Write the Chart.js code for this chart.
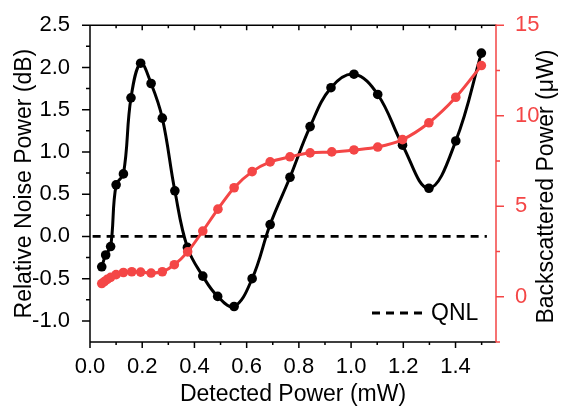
<html>
  <head>
    <script src="https://cdn.jsdelivr.net/npm/chart.js@4.4.1/dist/chart.umd.min.js"></script>
    <style>
      body { margin: 0; background: #fff; }
      #wrap { width: 563px; height: 410px; }
    </style>
  </head>
  <body>
    <div id="wrap"><canvas id="noiseCanvas" width="563" height="410"></canvas></div>
    <script>
      // detected power (mW) for the noise points
      var noiseX = [0.045, 0.060, 0.079, 0.100, 0.128, 0.157, 0.194, 0.234, 0.277, 0.325, 0.373, 0.432, 0.489,
                    0.552, 0.621, 0.690, 0.766, 0.843, 0.923, 1.011, 1.102, 1.197, 1.298, 1.401, 1.499];
      // relative noise power (dB)
      var noiseY = [-0.36, -0.22, -0.12, 0.61, 0.74, 1.64, 2.05, 1.81, 1.40, 0.54, -0.13, -0.47, -0.71,
                    -0.83, -0.50, 0.14, 0.70, 1.30, 1.76, 1.92, 1.68, 1.08, 0.57, 1.13, 2.17];

      // detected power (mW) for the backscatter points
      var backX = [0.045, 0.055, 0.066, 0.079, 0.100, 0.128, 0.160, 0.194, 0.234, 0.277, 0.323, 0.374, 0.432,
                   0.490, 0.552, 0.621, 0.690, 0.766, 0.843, 0.926, 1.011, 1.102, 1.197, 1.298, 1.401, 1.499];
      // backscattered power (uW)
      var backY = [0.73, 0.84, 0.96, 1.07, 1.22, 1.34, 1.38, 1.36, 1.31, 1.38, 1.77, 2.48, 3.63,
                   4.84, 6.02, 6.91, 7.45, 7.73, 7.95, 8.00, 8.11, 8.27, 8.68, 9.61, 11.02, 12.77];

      // quantum noise limit reference line
      var qnlX = [0.01, 1.52];
      var qnlY = [0, 0];

      var xTicks = [0.0, 0.2, 0.4, 0.6, 0.8, 1.0, 1.2, 1.4];
      var xMinor = [0.1, 0.3, 0.5, 0.7, 0.9, 1.1, 1.3, 1.5];
      var yTicks = [-1.0, -0.5, 0.0, 0.5, 1.0, 1.5, 2.0, 2.5];
      var yMinor = [-0.75, -0.25, 0.25, 0.75, 1.25, 1.75, 2.25];
      var y2Ticks = [0, 5, 10, 15];
      var y2Minor = [-2.5, 2.5, 7.5, 12.5];

      var RED = '#f44646';
      var FONT = "'Liberation Sans', Arial, sans-serif";

      function pts(xs, ys) {
        return xs.map(function(x, i) { return { x: x, y: ys[i] }; });
      }

      // axis frame, tick marks, right title and the QNL legend, drawn on top
      var framePlugin = {
        id: 'frame',
        afterDraw: function(chart) {
          var ctx = chart.ctx;
          var a = chart.chartArea;
          var sx = chart.scales.x, sy = chart.scales.y, sy2 = chart.scales.y2;
          ctx.save();
          ctx.lineWidth = 1.5;
          ctx.strokeStyle = '#000';
          ctx.beginPath();
          ctx.moveTo(a.left, a.top); ctx.lineTo(a.left, a.bottom + 0.5);
          ctx.moveTo(a.left, a.bottom); ctx.lineTo(a.right, a.bottom);
          ctx.moveTo(a.left, a.top); ctx.lineTo(a.right, a.top);
          // bottom ticks (outward) and top ticks (inward)
          xTicks.forEach(function(v) {
            var p = sx.getPixelForValue(v);
            ctx.moveTo(p, a.bottom); ctx.lineTo(p, a.bottom + 6);
            ctx.moveTo(p, a.top); ctx.lineTo(p, a.top + 5);
          });
          xMinor.forEach(function(v) {
            var p = sx.getPixelForValue(v);
            ctx.moveTo(p, a.bottom); ctx.lineTo(p, a.bottom + 3);
            ctx.moveTo(p, a.top); ctx.lineTo(p, a.top + 3);
          });
          yTicks.forEach(function(v) {
            var p = sy.getPixelForValue(v);
            ctx.moveTo(a.left, p); ctx.lineTo(a.left - 8, p);
          });
          yMinor.forEach(function(v) {
            var p = sy.getPixelForValue(v);
            ctx.moveTo(a.left, p); ctx.lineTo(a.left - 4, p);
          });
          ctx.stroke();

          ctx.strokeStyle = RED;
          ctx.beginPath();
          ctx.moveTo(a.right, a.top - 1); ctx.lineTo(a.right, a.bottom + 0.5);
          y2Ticks.forEach(function(v) {
            var p = sy2.getPixelForValue(v);
            ctx.moveTo(a.right, p); ctx.lineTo(a.right + 8, p);
          });
          y2Minor.forEach(function(v) {
            var p = sy2.getPixelForValue(v);
            ctx.moveTo(a.right, p); ctx.lineTo(a.right + 4, p);
          });
          ctx.stroke();

          // right axis title, reading bottom to top like the left one
          ctx.fillStyle = '#000';
          ctx.font = '23px ' + FONT;
          ctx.textAlign = 'center';
          ctx.textBaseline = 'middle';
          ctx.save();
          ctx.translate(547, (a.top + a.bottom) / 2 + 3);
          ctx.rotate(-Math.PI / 2);
          ctx.fillText('Backscattered Power (\u03bcW)', 0, 0);
          ctx.restore();

          // legend
          var ly = a.bottom - 29;
          ctx.strokeStyle = '#000';
          ctx.lineWidth = 2.8;
          ctx.setLineDash([8, 6]);
          ctx.beginPath();
          ctx.moveTo(a.right - 124, ly); ctx.lineTo(a.right - 71, ly);
          ctx.stroke();
          ctx.setLineDash([]);
          ctx.textAlign = 'left';
          ctx.font = '23px ' + FONT;
          ctx.fillText('QNL', a.right - 65, ly + 1);
          ctx.restore();
        }
      };

      function setTicks(list) {
        return function(scale) {
          scale.ticks = list.map(function(v) { return { value: v }; });
        };
      }

      new Chart(document.getElementById('noiseCanvas').getContext('2d'), {
        type: 'line',
        data: {
          datasets: [
            {
              label: 'Backscattered Power',
              data: pts(backX, backY),
              yAxisID: 'y2',
              borderColor: RED,
              backgroundColor: RED,
              borderWidth: 3,
              pointRadius: 4.8,
              pointBorderWidth: 0,
              tension: 0.3,
              order: 0
            },
            {
              label: 'Relative Noise Power',
              data: pts(noiseX, noiseY),
              yAxisID: 'y',
              borderColor: '#000',
              backgroundColor: '#000',
              borderWidth: 3,
              pointRadius: 4.8,
              pointBorderWidth: 0,
              tension: 0.4,
              order: 1
            },
            {
              label: 'QNL',
              data: pts(qnlX, qnlY),
              yAxisID: 'y',
              borderColor: '#000',
              borderWidth: 2.8,
              borderDash: [8, 6],
              pointRadius: 0,
              order: 2
            }
          ]
        },
        options: {
          responsive: false,
          animation: false,
          layout: { padding: { top: 16, left: 0, right: 0, bottom: 0 } },
          plugins: { legend: { display: false }, tooltip: { enabled: false } },
          scales: {
            x: {
              type: 'linear',
              min: 0,
              max: 1.555,
              afterBuildTicks: setTicks(xTicks),
              afterFit: function(s) { s.height = 68; },
              grid: { display: false },
              border: { display: false },
              ticks: {
                color: '#000',
                padding: 4,
                font: { family: FONT, size: 22 },
                maxRotation: 0,
                callback: function(v) { return v.toFixed(1); }
              },
              title: {
                display: true,
                text: 'Detected Power (mW)',
                color: '#000',
                font: { family: FONT, size: 23 },
                padding: { top: 0, bottom: 2 }
              }
            },
            y: {
              type: 'linear',
              position: 'left',
              min: -1.25,
              max: 2.5,
              afterBuildTicks: setTicks(yTicks),
              afterFit: function(s) { s.width = 90; },
              grid: { display: false },
              border: { display: false },
              ticks: {
                color: '#000',
                padding: 12,
                font: { family: FONT, size: 22 },
                callback: function(v) { return v.toFixed(1); }
              },
              title: {
                display: true,
                text: 'Relative Noise Power (dB)',
                color: '#000',
                font: { family: FONT, size: 23 },
                padding: { top: 11, bottom: 0 }
              }
            },
            y2: {
              type: 'linear',
              position: 'right',
              min: -2.5,
              max: 15,
              afterBuildTicks: setTicks(y2Ticks),
              afterFit: function(s) { s.width = 67; },
              grid: { display: false },
              border: { display: false },
              ticks: {
                color: RED,
                padding: 11,
                font: { family: FONT, size: 22 },
                callback: function(v) { return String(v); }
              },
              title: { display: false }
            }
          }
        },
        plugins: [framePlugin]
      });
    </script>
  </body>
</html>
